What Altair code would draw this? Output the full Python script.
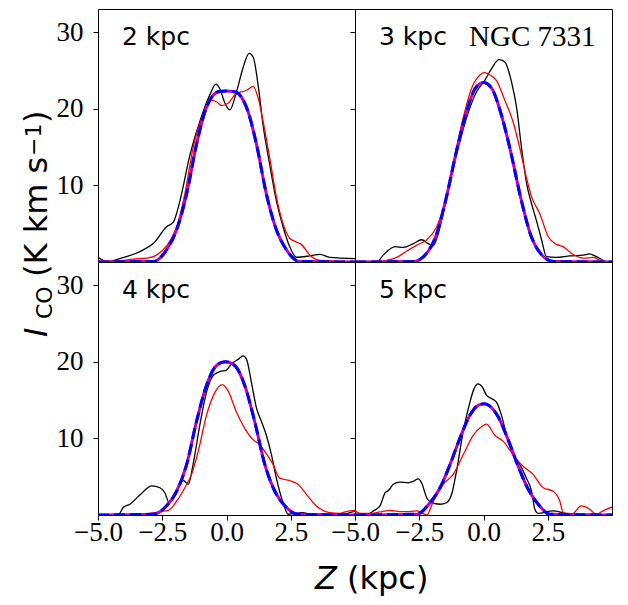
import altair as alt
import pandas as pd

# ---------------- data ----------------
# 2 kpc
z_blk_2 = [-5.0, -4.66, -4.0, -3.37, -2.85, -2.33, -2.07, -1.81, -1.42, -1.04, -0.65, -0.41, -0.26, -0.06, 0.13,
           0.39, 0.65, 0.88, 1.04, 1.23, 1.42, 1.68, 1.94, 2.2, 2.46, 2.72, 3.24, 3.63, 4.02, 5.0]
i_blk_2 = [0.62, 0.06, 0.6, 1.36, 2.4, 4.6, 5.2, 8.0, 14.0, 18.3, 21.8, 23.2, 22.6, 20.7, 19.85,
           22.2, 25.4, 27.2, 26.7, 23.1, 17.9, 12.75, 8.0, 4.6, 2.0, 0.62, 0.8, 1.0, 0.6, 0.45]
z_red_2 = [-5.0, -4.0, -3.63, -3.1, -2.72, -2.33, -1.94, -1.62, -1.3, -0.91, -0.58, -0.39, -0.19, 0.06,
           0.39, 0.78, 1.04, 1.23, 1.42, 1.68, 1.94, 2.2, 2.46, 2.72, 2.91, 3.24, 3.63, 5.0]
i_red_2 = [0.06, 0.2, 0.37, 0.5, 0.9, 2.1, 4.6, 8.9, 14.9, 19.2, 21.1, 20.9, 20.4, 20.7,
           22.0, 22.4, 22.9, 21.4, 18.4, 13.6, 8.5, 5.0, 3.1, 2.6, 2.3, 0.9, 0.2, 0.06]
z_mod_2 = [-5.0, -2.85, -2.33, -1.94, -1.55, -1.17, -0.84, -0.58, -0.32, 0.0, 0.32, 0.58, 0.84, 1.17,
           1.55, 1.94, 2.33, 2.85, 5.0]
i_mod_2 = [0.0, 0.06, 1.6, 4.2, 8.9, 15.3, 19.6, 21.5, 22.2, 22.3, 22.2, 21.5, 19.6, 15.3,
           8.9, 4.2, 1.6, 0.06, 0.0]

# 3 kpc
z_blk_3 = [-5.0, -4.15, -3.9, -3.44, -3.12, -2.73, -2.41, -2.15, -1.96, -1.76, -1.44, -1.05, -0.66, -0.27,
           0.05, 0.31, 0.6, 0.83, 1.09, 1.29, 1.48, 1.68, 1.87, 2.06, 2.26, 2.45, 2.84, 3.36, 3.88, 4.13,
           4.39, 4.78, 5.0]
i_blk_3 = [0.0, 0.0, 0.9, 2.0, 1.9, 2.4, 2.9, 2.4, 2.1, 3.7, 8.5, 14.0, 18.8, 22.2,
           23.7, 25.2, 26.4, 26.1, 23.5, 20.1, 14.9, 10.2, 7.6, 5.4, 2.9, 0.7, 0.6, 0.8, 0.9, 1.05,
           0.7, 0.06, 0.0]
z_red_3 = [-5.0, -4.1, -3.77, -3.38, -3.0, -2.6, -2.21, -1.82, -1.5, -1.18, -0.79, -0.47, -0.14, 0.05,
           0.25, 0.5, 0.83, 1.15, 1.41, 1.67, 1.87, 2.19, 2.52, 2.84, 3.1, 3.42, 3.88, 4.26, 4.65, 5.0]
i_red_3 = [0.0, 0.0, 0.2, 0.6, 1.4, 2.2, 2.9, 4.6, 7.6, 12.75, 18.8, 22.6, 24.4, 24.7,
           24.4, 23.7, 21.1, 18.3, 14.9, 11.0, 8.5, 6.3, 3.3, 2.3, 2.0, 1.15, 0.5, 0.6, 0.06, 0.0]
z_mod_3 = [-5.0, -2.73, -2.21, -1.82, -1.44, -1.05, -0.66, -0.33, 0.0, 0.33, 0.66, 1.05, 1.44, 1.82,
           2.21, 2.73, 5.0]
i_mod_3 = [0.0, 0.05, 1.15, 3.7, 8.5, 14.5, 19.6, 22.6, 23.4, 22.6, 19.6, 14.5, 8.5, 3.7,
           1.15, 0.05, 0.0]

# 4 kpc
z_blk_4 = [-5.0, -4.2, -4.02, -3.76, -3.37, -2.91, -2.59, -2.4, -2.23, -2.07, -1.88, -1.68, -1.49, -1.3,
           -1.04, -0.78, -0.52, -0.26, 0.0, 0.19, 0.45, 0.65, 0.78, 0.97, 1.17, 1.36, 1.55, 1.75, 1.94,
           2.2, 2.4, 2.98, 3.24, 4.5, 5.0]
i_blk_4 = [0.0, 0.1, 0.97, 1.4, 2.6, 3.8, 3.55, 2.9, 1.6, 2.26, 3.55, 4.5, 4.0, 6.6,
           11.7, 16.0, 18.2, 18.7, 18.9, 19.7, 20.3, 20.75, 20.3, 17.3, 13.9, 12.2, 10.4, 7.85, 4.8,
           1.6, 0.1, 0.3, 0.1, 0.1, 0.5]
z_red_4 = [-5.0, -3.4, -2.98, -2.59, -2.27, -1.94, -1.62, -1.36, -1.1, -0.78, -0.45, -0.16, 0.06, 0.39,
           0.71, 1.04, 1.23, 1.49, 1.81, 2.07, 2.46, 2.78, 3.11, 3.5, 4.02, 4.4, 4.66, 5.0]
i_red_4 = [0.0, 0.0, 0.2, 0.45, 0.6, 1.8, 3.55, 5.3, 8.3, 13.0, 16.0, 17.0, 16.2, 13.4,
           11.3, 9.8, 9.35, 8.3, 6.6, 4.8, 4.5, 4.0, 2.7, 1.18, 0.3, 0.2, 0.45, 0.6]
z_mod_4 = [-5.0, -2.85, -2.33, -1.94, -1.55, -1.17, -0.78, -0.39, -0.04, 0.32, 0.71, 1.1, 1.49, 1.88,
           2.27, 2.78, 5.0]
i_mod_4 = [0.0, 0.1, 1.2, 3.1, 6.6, 12.15, 16.9, 19.5, 20.0, 19.5, 16.9, 12.15, 6.6, 3.1,
           1.2, 0.1, 0.0]

# 5 kpc
z_blk_5 = [-5.0, -4.6, -4.28, -4.03, -3.83, -3.7, -3.51, -3.25, -2.92, -2.73, -2.54, -2.41, -2.21, -2.02,
           -1.69, -1.44, -1.24, -1.05, -0.79, -0.53, -0.37, -0.21, -0.05, 0.12, 0.31, 0.51, 0.7, 0.9,
           1.15, 1.41, 1.67, 1.87, 2.0, 2.13, 2.71, 3.23, 5.0]
i_blk_5 = [0.0, 0.0, 0.54, 1.18, 2.9, 3.2, 4.0, 4.3, 4.2, 4.4, 4.7, 4.2, 2.26, 1.6,
           1.4, 1.6, 2.7, 5.7, 10.9, 14.7, 16.45, 17.1, 16.7, 15.6, 15.2, 14.7, 13.0, 10.4,
           7.85, 6.6, 4.8, 3.1, 0.75, 0.2, 0.54, 0.2, 0.0]
z_red_5 = [-5.0, -4.8, -4.42, -4.03, -3.64, -3.25, -2.86, -2.6, -2.41, -2.21, -1.95, -1.57, -1.18, -0.79,
           -0.4, -0.08, 0.12, 0.44, 0.77, 1.15, 1.54, 1.93, 2.32, 2.71, 2.97, 3.1, 3.42, 3.81, 4.13,
           4.39, 4.65, 5.0]
i_red_5 = [0.54, 0.2, 0.2, 0.4, 0.6, 0.45, 0.45, 0.54, 0.32, 0.0, 1.8, 4.0, 5.3, 7.85,
           10.4, 11.5, 11.85, 10.4, 9.6, 7.85, 6.35, 5.3, 3.55, 3.1, 1.8, 0.32, 0.1, 1.18, 0.75,
           0.1, 0.54, 1.05]
z_mod_5 = [-5.0, -2.6, -2.08, -1.69, -1.3, -0.92, -0.53, -0.21, 0.03, 0.25, 0.57, 0.96, 1.35, 1.74,
           2.13, 2.58, 5.0]
i_mod_5 = [0.0, 0.1, 1.6, 3.55, 6.6, 10.0, 13.0, 14.3, 14.5, 14.2, 12.8, 9.8, 6.35, 3.35,
           1.4, 0.1, 0.0]

panel_labels = ["2 kpc", "3 kpc", "4 kpc", "5 kpc"]
x_ticks = [-5.0, -2.5, 0.0, 2.5]
y_ticks = [10, 20, 30]

# ---------------- chart ----------------
W, H = 257, 253
BLACK, RED, BLUE, MAG = "#000000", "#ff0000", "#0000ff", "#bf00bf"
xscale = alt.Scale(domain=[-5, 5], nice=False, zero=False)
yscale = alt.Scale(domain=[0, 33], nice=False, zero=False)


def text_layer(txt, x, y, font, size, style="normal", angle=0):
    return alt.Chart(pd.DataFrame({"t": [txt]})).mark_text(
        font=font, fontSize=size, fontStyle=style, angle=angle, align="left",
        baseline="alphabetic", color="black"
    ).encode(text="t:N", x=alt.value(x), y=alt.value(y))


def panel(idx, blk, red, mod, extra=()):
    row, col = divmod(idx, 2)
    x_axis = (alt.Axis(values=x_ticks, format=".1f", title=None, labelFlush=False,
                       labelOverlap=False, labelPadding=-1) if row == 1 else None)
    y_axis = alt.Axis(values=y_ticks, format="d", title=None, labels=(col == 0),
                      labelOverlap=False, labelPadding=10)

    def line(zs, vals, color, width, dash=None):
        kw = dict(color=color, strokeWidth=width, clip=True, interpolate="monotone")
        if dash:
            kw["strokeDash"] = dash
        return alt.Chart(pd.DataFrame({"z": zs, "i": vals})).mark_line(**kw).encode(
            x=alt.X("z:Q", scale=xscale, axis=x_axis),
            y=alt.Y("i:Q", scale=yscale, axis=y_axis),
        )

    layers = [
        line(blk[0], blk[1], BLACK, 1.3),
        line(red[0], red[1], RED, 1.3),
        line(mod[0], mod[1], MAG, 3),
        line(mod[0], mod[1], BLUE, 3, [11, 5]),
        text_layer(panel_labels[idx], 24, 36, "DejaVu Sans", 25),
    ]
    layers += list(extra)
    return alt.layer(*layers).properties(width=W, height=H)


# axis titles (placed relative to panel origins)
ytitle = [
    text_layer("I", -51, 328, "DejaVu Sans", 32, "italic", 270),
    text_layer("CO", -46, 310, "DejaVu Sans", 22, "normal", 270),
    text_layer("(K km s", -51, 268, "DejaVu Sans", 32, "normal", 270),
    text_layer("\u22121", -57, 147, "DejaVu Sans", 22, "normal", 270),
    text_layer(")", -51, 114, "DejaVu Sans", 32, "normal", 270),
]
xtitle = [
    text_layer("Z", 217, 327, "DejaVu Sans", 32, "italic"),
    text_layer("(kpc)", 249, 327, "DejaVu Sans", 32),
]
ngc = [text_layer("NGC 7331", 114, 37, "Liberation Serif", 29)]

p2 = panel(0, (z_blk_2, i_blk_2), (z_red_2, i_red_2), (z_mod_2, i_mod_2), ytitle)
p3 = panel(1, (z_blk_3, i_blk_3), (z_red_3, i_red_3), (z_mod_3, i_mod_3), ngc)
p4 = panel(2, (z_blk_4, i_blk_4), (z_red_4, i_red_4), (z_mod_4, i_mod_4), xtitle)
p5 = panel(3, (z_blk_5, i_blk_5), (z_red_5, i_red_5), (z_mod_5, i_mod_5))

chart = alt.concat(p2, p3, p4, p5, columns=2, spacing=0, bounds="flush").properties(
    padding={"left": 12, "top": 0, "right": 5, "bottom": 0}
).configure_view(
    stroke="black", strokeWidth=1, fill="white"
).configure_axis(
    domain=False, grid=False, tickColor="black", tickSize=5, tickWidth=1,
    labelFont="Liberation Serif", labelFontSize=27, labelColor="black"
)

chart.save("out.html", embed_options={"renderer": "svg", "actions": False})
